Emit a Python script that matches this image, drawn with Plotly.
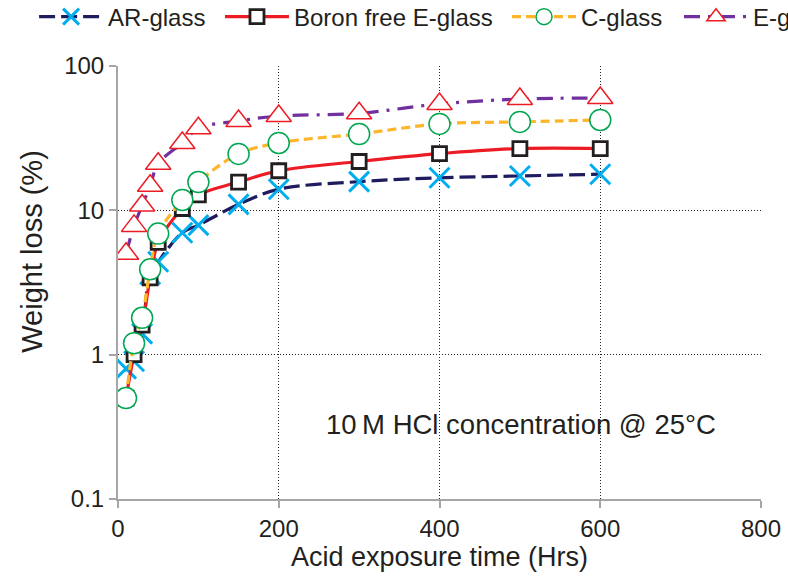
import plotly.graph_objects as go

# ---- data ----
hours = [10, 20, 30, 40, 50, 80, 100, 150, 200, 300, 400, 500, 600]
ar_glass = [0.8, 0.9, 1.4, 3.6, 4.4, 7.0, 7.9, 11.0, 14.0, 15.8, 16.8, 17.3, 17.8]
boron_free_e = [0.5, 1.0, 1.6, 3.4, 6.0, 10.3, 12.8, 15.7, 18.8, 21.8, 24.7, 26.8, 26.8]
c_glass = [0.5, 1.2, 1.8, 3.9, 6.9, 11.8, 15.7, 24.6, 29.3, 33.8, 39.7, 41.0, 42.3]
e_glass = [5.0, 7.8, 10.8, 14.8, 21.0, 29.3, 37.0, 41.6, 45.0, 47.0, 54.6, 59.0, 60.0]

x_ticks = [0, 200, 400, 600, 800]
y_ticks = [0.1, 1, 10, 100]
y_tick_text = ["0.1", "1", "10", "100"]

FONT = "Liberation Sans, Arial, Helvetica, sans-serif"
TXT = "#231f20"

series = [
    dict(name="AR-glass", y=ar_glass, lc="#1e1b5e", dash="16px,6px",
         sym="x-thin-open", mc="#00aeef", ms=20, mw=3, fill="#00aeef", leg="legend"),
    dict(name="Boron free E-glass", y=boron_free_e, lc="#ed1c24", dash="solid",
         sym="square", mc="#231f20", ms=14, mw=2.8, fill="white", leg="legend2"),
    dict(name="C-glass", y=c_glass, lc="#fdb52a", dash="9px,5px",
         sym="circle", mc="#00a651", ms=21, mw=1.5, fill="white", leg="legend3"),
    dict(name="E-glass", y=e_glass, lc="#7030a0", dash="16px,8px,3px,8px",
         sym="triangle-up", mc="#ed1c24", ms=22, mw=1.5, fill="white", leg="legend4"),
]

fig = go.Figure()
for s in series:
    fig.add_trace(go.Scatter(
        x=hours, y=s["y"], name=s["name"], mode="lines+markers",
        line=dict(color=s["lc"], width=3.2, dash=s["dash"], shape="spline", smoothing=1.0),
        marker=dict(symbol=s["sym"], size=s["ms"], color=s["fill"],
                    line=dict(color=s["mc"], width=s["mw"])),
        legend=s["leg"], showlegend=True,
    ))

leg_common = dict(orientation="h", yanchor="middle", y=1.113, xanchor="left",
                  bgcolor="rgba(0,0,0,0)", itemwidth=64, visible=True,
                  font=dict(family=FONT, size=24, color=TXT))
fig.update_layout(
    width=788, height=581,
    showlegend=True,
    margin=dict(l=118, r=27, t=66, b=82, autoexpand=False),
    paper_bgcolor="white", plot_bgcolor="white",
    font=dict(family=FONT, size=24, color=TXT),
    legend=dict(leg_common, x=-0.1305),
    legend2=dict(leg_common, x=0.1586),
    legend3=dict(leg_common, x=0.605),
    legend4=dict(leg_common, x=0.8725),
    xaxis=dict(range=[0, 800], tickvals=x_ticks, showgrid=True, gridcolor="#222222",
               griddash="1px,2px", gridwidth=1, zeroline=False,
               showline=True, linecolor="#a6a6a6", linewidth=2,
               ticks="outside", ticklen=7, tickcolor="#a6a6a6", tickwidth=1.5,
               tickfont=dict(size=24, color=TXT),
               title=dict(text="Acid exposure time (Hrs)", font=dict(size=27, color=TXT), standoff=6)),
    yaxis=dict(type="log", range=[-1, 2], tickvals=y_ticks, ticktext=y_tick_text,
               showgrid=True, gridcolor="#222222", griddash="1px,2px", gridwidth=1,
               zeroline=False, showline=True, linecolor="#a6a6a6", linewidth=2,
               ticks="outside", ticklen=7, tickcolor="#a6a6a6", tickwidth=1.5,
               tickfont=dict(size=24, color=TXT)),
    annotations=[
        dict(text="Weight loss (%)", textangle=-90, xref="paper", yref="paper",
             x=-0.134, y=0.573, xanchor="center", yanchor="middle", showarrow=False,
             font=dict(size=29, color=TXT, family=FONT)),
        dict(text="10\u2009M HCl concentration @ 25°C", xref="paper", yref="paper",
             x=0.627, y=0.171, xanchor="center", yanchor="middle", showarrow=False,
             font=dict(size=27.5, color=TXT, family=FONT)),
    ],
)

fig.write_html("out.html")
